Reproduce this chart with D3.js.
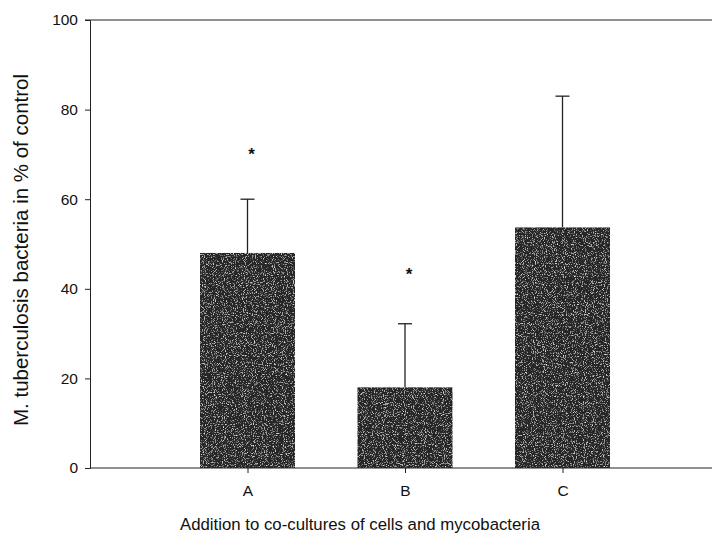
<!DOCTYPE html>
<html>
<head>
<meta charset="utf-8">
<script src="https://cdn.jsdelivr.net/npm/d3@7"></script>
<style>
  body { margin: 0; background: #fff; }
  text { font-family: "Liberation Sans", Arial, sans-serif; fill: #111; }
</style>
</head>
<body>
<div id="chart"></div>
<script>
//  data
var categories = ["A", "B", "C"];
var means = [48, 18, 53.7];
var errUpper = [60, 32.2, 83];
var starAt = [70.5, 43.8, null];
var yTicks = [0, 20, 40, 60, 80, 100];

//  draw
function draw_chart() {
  const w = 712, h = 536;
  const margin = {top: 20, right: -8, bottom: 68, left: 90};

  const svg = d3.select("#chart").append("svg").attr("width", w).attr("height", h);

  // speckled scan look for the bars
  const f = svg.append("defs").append("filter").attr("id", "speckle")
    .attr("x", 0).attr("y", 0).attr("width", 1).attr("height", 1);
  f.append("feTurbulence").attr("type", "fractalNoise").attr("baseFrequency", 0.9)
    .attr("numOctaves", 2).attr("seed", 4).attr("result", "n");
  f.append("feColorMatrix").attr("in", "n").attr("type", "matrix")
    .attr("values", "0 0 0 0 0.8  0 0 0 0 0.8  0 0 0 0 0.8  3.2 0 0 0 -1.75")
    .attr("result", "spots");
  f.append("feComposite").attr("in", "spots").attr("in2", "SourceGraphic").attr("operator", "atop");

  const x = d3.scalePoint().domain(categories).range([margin.left, w - margin.right]).padding(1);
  const y = d3.scaleLinear().domain([0, 100]).range([h - margin.bottom, margin.top]);
  const barW = 95;

  // bars
  svg.append("g").selectAll("rect").data(categories).enter()
    .append("rect")
    .attr("x", d => x(d) - barW / 2)
    .attr("y", (d, i) => y(means[i]))
    .attr("width", barW)
    .attr("height", (d, i) => y(0) - y(means[i]))
    .style("fill", "#262626")
    .attr("filter", "url(#speckle)");

  // error bars
  const eb = svg.append("g").style("stroke", "#222").style("stroke-width", 1.3);
  eb.selectAll("line.v").data(categories).enter()
    .append("line").attr("class", "v")
    .attr("x1", d => x(d)).attr("x2", d => x(d))
    .attr("y1", (d, i) => y(means[i])).attr("y2", (d, i) => y(errUpper[i]));
  eb.selectAll("line.c").data(categories).enter()
    .append("line").attr("class", "c")
    .attr("x1", d => x(d) - 7).attr("x2", d => x(d) + 7)
    .attr("y1", (d, i) => y(errUpper[i])).attr("y2", (d, i) => y(errUpper[i]));

  // significance stars
  svg.append("g").selectAll("text").data(categories.filter((d, i) => starAt[i] != null)).enter()
    .append("text")
    .attr("x", d => x(d) + 4)
    .attr("y", d => y(starAt[categories.indexOf(d)]) + 8)
    .attr("text-anchor", "middle")
    .style("font-size", "17px")
    .style("font-weight", "bold")
    .text("*");

  // axes
  const yAxis = g => g
    .attr("transform", `translate(${margin.left},0)`)
    .call(d3.axisLeft(y).tickValues(yTicks).tickSize(5).tickPadding(7))
    .call(g => g.selectAll("text").style("font-size", "15.5px"));

  const xAxis = g => g
    .attr("transform", `translate(0,${y(0)})`)
    .call(d3.axisBottom(x).tickSize(5).tickPadding(12))
    .call(g => g.select(".domain").attr("d", `M${margin.left},0H${w}`))
    .call(g => g.selectAll("text").style("font-size", "15.5px"));

  svg.append("g").call(yAxis);
  svg.append("g").call(xAxis);

  // top frame line
  svg.append("line")
    .attr("x1", margin.left - 5).attr("x2", w)
    .attr("y1", y(100)).attr("y2", y(100))
    .style("stroke", "#222");

  svg.selectAll(".domain, .tick line").style("stroke", "#222");

  // titles
  svg.append("text")
    .attr("x", 360)
    .attr("y", 530)
    .attr("text-anchor", "middle")
    .style("font-size", "16.8px")
    .text("Addition to co-cultures of cells and mycobacteria");

  svg.append("text")
    .attr("transform", `translate(28,250) rotate(-90)`)
    .attr("text-anchor", "middle")
    .style("font-size", "20.5px")
    .text("M. tuberculosis bacteria in % of control");
}

draw_chart();
</script>
</body>
</html>
